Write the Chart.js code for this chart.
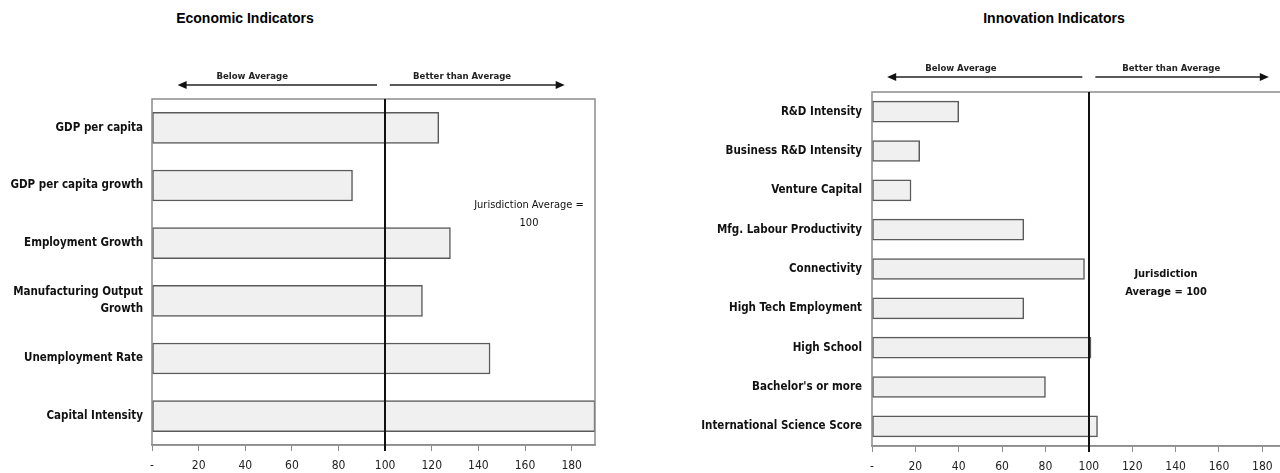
<html>
<head>
<style>
  body { margin: 0; width: 1280px; height: 473px; overflow: hidden; background: #fff; position: relative; font-family: 'Liberation Sans', Arial, sans-serif; }
  .title { position: absolute; top: 10px; font-weight: bold; font-size: 14px; color: #000; transform: translateX(-50%); white-space: nowrap; }
  .note { position: absolute; text-align: center; font-family: 'Liberation Sans Narrow', 'DejaVu Sans Condensed', sans-serif; transform: translateX(-50%); white-space: nowrap; color: #111; line-height: 18px; }
  #econChart { position: absolute; left: 0; top: 0; }
  #innovChart { position: absolute; left: 640px; top: 0; }
</style>
</head>
<script src="https://cdn.jsdelivr.net/npm/chart.js"></script>

<body>
  <div class="title" style="left: 245px;">Economic Indicators</div>
  <div class="title" style="left: 1054px;">Innovation Indicators</div>
  <canvas id="econChart" width="640" height="473"></canvas>
  <canvas id="innovChart" width="660" height="473"></canvas>
  <div class="note" style="left: 529px; top: 196px; font-size: 11px;">Jurisdiction Average =<br>100</div>
  <div class="note" style="left: 1166px; top: 265px; font-size: 11px; font-weight: bold;">Jurisdiction<br>Average = 100</div>
</body>

<script>
  // data
  const econLabels = ['GDP per capita', 'GDP per capita growth', 'Employment Growth',
    ['Manufacturing Output', 'Growth'], 'Unemployment Rate', 'Capital Intensity'];
  const econValues = [123, 86, 128, 116, 145, 190];

  const innovLabels = ['R&D Intensity', 'Business R&D Intensity', 'Venture Capital',
    'Mfg. Labour Productivity', 'Connectivity', 'High Tech Employment', 'High School',
    "Bachelor's or more", 'International Science Score'];
  const innovValues = [40, 22, 18, 70, 98, 70, 101, 80, 104];

  const tickValues = [0, 20, 40, 60, 80, 100, 120, 140, 160, 180];
  const average = 100;
  const axisMax = 190;

  const narrow = "'Liberation Sans Narrow', 'DejaVu Sans Condensed', sans-serif";

  // frame, average line and the two arrows above the plot
  const refLine = {
    id: 'refLine',
    afterDatasetsDraw(chart, args, opts) {
      const ctx = chart.ctx;
      const a = chart.chartArea;
      const x = chart.scales.x;
      ctx.save();
      ctx.strokeStyle = '#8c8c8c';
      ctx.lineWidth = 1.5;
      ctx.strokeRect(a.left, a.top, a.right - a.left, a.bottom - a.top);

      const xv = Math.round(x.getPixelForValue(average));
      ctx.strokeStyle = '#111';
      ctx.lineWidth = 2;
      ctx.beginPath();
      ctx.moveTo(xv, a.top);
      ctx.lineTo(xv, a.bottom + 6);
      ctx.stroke();

      const y = a.top + opts.arrowDy;
      opts.arrows.forEach(ar => {
        const x0 = x.getPixelForValue(ar.from);
        const x1 = x.getPixelForValue(ar.to);
        const dir = x1 > x0 ? 1 : -1;
        ctx.strokeStyle = '#222';
        ctx.fillStyle = '#111';
        ctx.lineWidth = 1.5;
        ctx.beginPath();
        ctx.moveTo(x0, y);
        ctx.lineTo(x1 - dir * 6, y);
        ctx.stroke();
        ctx.beginPath();
        ctx.moveTo(x1, y);
        ctx.lineTo(x1 - dir * 9, y - 4);
        ctx.lineTo(x1 - dir * 9, y + 4);
        ctx.closePath();
        ctx.fill();
        ctx.font = 'bold 9.5px ' + narrow;
        ctx.textAlign = 'center';
        ctx.textBaseline = 'middle';
        ctx.fillStyle = '#222';
        ctx.fillText(ar.label, x.getPixelForValue(ar.labelAt), y - 8);
      });
      ctx.restore();
    }
  };

  function makeChart(id, labels, values, geo) {
    return new Chart(document.getElementById(id), {
      type: 'bar',
      data: {
        labels: labels,
        datasets: [{
          data: values,
          backgroundColor: '#f0f0f0',
          borderColor: '#5a5a5a',
          borderWidth: 1.5,
          borderSkipped: false,
          barThickness: geo.bar
        }]
      },
      plugins: [refLine],
      options: {
        indexAxis: 'y',
        responsive: false,
        animation: false,
        layout: { padding: { left: 0, top: geo.top, right: geo.right, bottom: 0 } },
        plugins: {
          legend: { display: false },
          tooltip: { enabled: false },
          refLine: { arrowDy: geo.arrowDy, arrows: geo.arrows }
        },
        scales: {
          x: {
            min: 0,
            max: axisMax,
            afterBuildTicks: s => { s.ticks = tickValues.map(v => ({ value: v })); },
            afterFit: s => { s.height = geo.xh; },
            grid: { display: true, drawOnChartArea: false, drawTicks: true, tickLength: 6, color: '#8c8c8c' },
            border: { display: true, color: '#8c8c8c', width: 1.5 },
            ticks: {
              padding: 8,
              color: '#222',
              font: { family: narrow, size: 12 },
              callback: v => v === 0 ? '-' : v
            }
          },
          y: {
            afterFit: s => { s.width = geo.yw; },
            grid: { display: false, drawTicks: false, tickLength: 0 },
            border: { display: false },
            ticks: {
              padding: geo.pad,
              color: '#111',
              font: { family: narrow, size: 11.5, weight: 'bold', lineHeight: 1.5 }
            }
          }
        }
      }
    });
  }

  makeChart('econChart', econLabels, econValues, {
    top: 99, right: 45, xh: 28, yw: 152, pad: 9, bar: 31, arrowDy: -14,
    arrows: [
      { from: 96.5, to: 11, label: 'Below Average', labelAt: 43 },
      { from: 102, to: 177, label: 'Better than Average', labelAt: 133 }
    ]
  });

  makeChart('innovChart', innovLabels, innovValues, {
    top: 92, right: 16, xh: 27, yw: 232, pad: 10, bar: 21, arrowDy: -15,
    arrows: [
      { from: 97, to: 7, label: 'Below Average', labelAt: 41 },
      { from: 103, to: 183, label: 'Better than Average', labelAt: 138 }
    ]
  });
</script>

</html>
